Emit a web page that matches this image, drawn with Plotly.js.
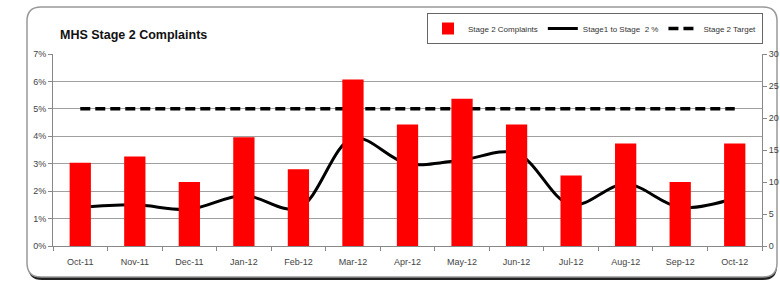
<!DOCTYPE html>
<html>
<head>
<meta charset="utf-8">
<script src="https://cdn.plot.ly/plotly-3.0.1.min.js"></script>
<style>html,body{margin:0;padding:0;background:#fff;}#chart{width:780px;height:282px;}</style>
</head>
<body>
<div id="chart"></div>
<script>
// ---- data ----
const months = ["Oct-11","Nov-11","Dec-11","Jan-12","Feb-12","Mar-12","Apr-12","May-12","Jun-12","Jul-12","Aug-12","Sep-12","Oct-12"];
const stage2Complaints = [13,14,10,17,12,26,19,23,19,11,16,10,16];
const stage1ToStage2Pct = [1.41,1.50,1.34,1.84,1.38,3.93,3.00,3.14,3.38,1.50,2.26,1.41,1.74];
const stage2TargetPct = [5,5,5,5,5,5,5,5,5,5,5,5,5];
const leftTicks = [0,1,2,3,4,5,6,7];
const leftTickLabels = ["0%","1%","2%","3%","4%","5%","6%","7%"];

// ---- layout geometry ----
const W = 780, H = 282;
const M = {l:53, r:18, t:54, b:36};
const pw = W - M.l - M.r, ph = H - M.t - M.b;
const X = px => (px - M.l) / pw;
const Y = py => (H - M.b - py) / ph;
function roundRect(x0, y0, x1, y1, r) {
  return `M${X(x0+r)},${Y(y0)} L${X(x1-r)},${Y(y0)} Q${X(x1)},${Y(y0)} ${X(x1)},${Y(y0+r)} ` +
         `L${X(x1)},${Y(y1-r)} Q${X(x1)},${Y(y1)} ${X(x1-r)},${Y(y1)} ` +
         `L${X(x0+r)},${Y(y1)} Q${X(x0)},${Y(y1)} ${X(x0)},${Y(y1-r)} ` +
         `L${X(x0)},${Y(y0+r)} Q${X(x0)},${Y(y0)} ${X(x0+r)},${Y(y0)} Z`;
}

const FONT = "Liberation Sans";

const traces = [
  {
    type: "bar", name: "Stage 2 Complaints", x: months, y: stage2Complaints,
    yaxis: "y2", marker: {color: "#ff0000"}, width: 0.39
  },
  {
    type: "scatter", mode: "lines", name: "Stage1 to Stage\u00a0 2 %", x: months, y: stage1ToStage2Pct,
    line: {color: "#000", width: 3, shape: "spline", smoothing: 1}
  },
  {
    type: "scatter", mode: "lines", name: "Stage 2 Target", x: months, y: stage2TargetPct,
    line: {color: "#000", width: 3.5, dash: "10px,5px"}
  }
];

const layout = {
  width: W, height: H,
  margin: {l: M.l, r: M.r, t: M.t, b: M.b, pad: 0, autoexpand: false},
  paper_bgcolor: "#fff", plot_bgcolor: "rgba(0,0,0,0)",
  font: {family: FONT, size: 9, color: "#444"},
  showlegend: true,
  title: {
    text: "<b>MHS Stage 2 Complaints</b>",
    font: {family: FONT, size: 12.5, color: "#111"},
    xref: "container", yref: "container", x: 60 / W, xanchor: "left",
    y: 1 - 35 / H, yanchor: "middle"
  },
  legend: {
    orientation: "h", xref: "container", yref: "container",
    x: 427 / W, xanchor: "left", y: 1 - 13 / H, yanchor: "top",
    bordercolor: "#666", borderwidth: 1, bgcolor: "#fff",
    font: {family: FONT, size: 8, color: "#333"}, traceorder: "normal"
  },
  xaxis: {
    type: "category", showline: true, linecolor: "#888", linewidth: 1,
    ticks: "outside", tickson: "boundaries", ticklen: 4, tickcolor: "#888",
    showgrid: false, zeroline: false, ticklabelstandoff: 7,
    tickfont: {family: FONT, size: 9, color: "#444"}
  },
  yaxis: {
    range: [0, 7], tickvals: leftTicks, ticktext: leftTickLabels,
    showline: true, linecolor: "#888", linewidth: 1,
    ticks: "outside", ticklen: 4, tickcolor: "#888",
    showgrid: true, gridcolor: "#a0a0a0", gridwidth: 1, zeroline: false,
    tickfont: {family: FONT, size: 9, color: "#444"}
  },
  yaxis2: {
    overlaying: "y", side: "right", range: [0, 30], dtick: 5,
    showline: true, linecolor: "#888", linewidth: 1,
    ticks: "outside", ticklen: 4, tickcolor: "#888",
    showgrid: false, zeroline: false,
    tickfont: {family: FONT, size: 9, color: "#444"}
  },
  shapes: [
    {type: "path", xref: "paper", yref: "paper", layer: "below",
     path: roundRect(28, 10, 777, 280, 14), fillcolor: "#222", line: {width: 0}},
    {type: "path", xref: "paper", yref: "paper", layer: "below",
     path: roundRect(27, 7, 777, 277, 14), fillcolor: "#fff", line: {color: "#999", width: 1.5}}
  ]
};

Plotly.newPlot("chart", traces, layout, {displayModeBar: false, staticPlot: true});
</script>
</body>
</html>
